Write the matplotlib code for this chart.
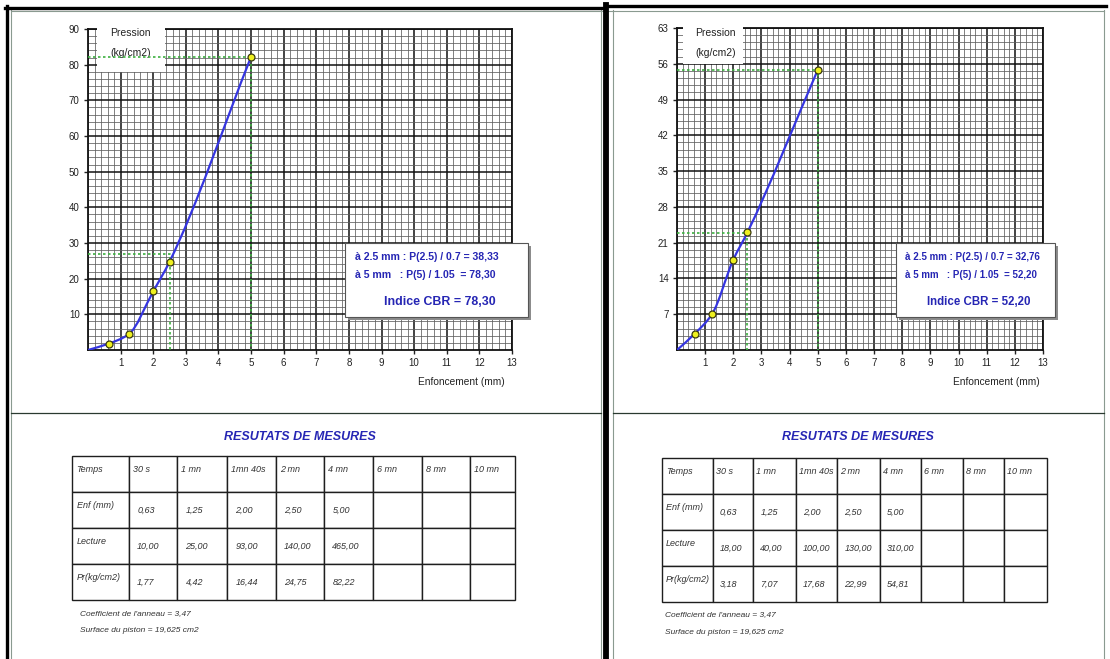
import numpy as np
import matplotlib
matplotlib.use("Agg")
import matplotlib.pyplot as plt
from matplotlib.patches import Rectangle, PathPatch
from matplotlib.path import Path
from matplotlib.ticker import MultipleLocator

plt.rcParams['font.family'] = ['Liberation Sans', 'DejaVu Sans']

W, H = 1110, 659

# Essai CBR : temps de lecture et enfoncement communs aux deux essais
temps = ["30 s", "1 mn", "1mn 40s", "2 mn", "4 mn", "6 mn", "8 mn", "10 mn"]
enf_mm = [0.63, 1.25, 2.00, 2.50, 5.00]

# Essai 1
lecture_1 = [10.00, 25.00, 93.00, 140.00, 465.00]
pression_1 = [1.77, 4.42, 16.44, 24.75, 82.22]
indice_25_1 = 38.33   # P(2.5) / 0.7
indice_5_1 = 78.30    # P(5) / 1.05
cbr_1 = 78.30

# Essai 2
lecture_2 = [18.00, 40.00, 100.00, 130.00, 310.00]
pression_2 = [3.18, 7.07, 17.68, 22.99, 54.81]
indice_25_2 = 32.76
indice_5_2 = 52.20
cbr_2 = 52.20

coef_anneau = "3,47"
surface_piston = "19,625"

BLUE_TXT = "#2626b4"
GREEN = "#3cb040"


def fmt(v):
    return f"{v:.2f}".replace(".", ",")


def fig_rect(l, t, r, b):
    return [l / W, 1 - b / H, (r - l) / W, (b - t) / H]


def smooth_path(xs, ys):
    # courbe lissée (tangentes monotones) passant par les points mesurés
    x = np.asarray(xs, float)
    y = np.asarray(ys, float)
    h = np.diff(x)
    d = np.diff(y) / h
    m = np.zeros_like(x)
    m[0], m[-1] = d[0], d[-1]
    for k in range(1, len(x) - 1):
        if d[k - 1] * d[k] > 0:
            w1 = 2 * h[k] + h[k - 1]
            w2 = h[k] + 2 * h[k - 1]
            m[k] = (w1 + w2) / (w1 / d[k - 1] + w2 / d[k])
    verts = [(x[0], y[0])]
    codes = [Path.MOVETO]
    for k in range(len(x) - 1):
        verts += [(x[k] + h[k] / 3, y[k] + m[k] * h[k] / 3),
                  (x[k + 1] - h[k] / 3, y[k + 1] - m[k + 1] * h[k] / 3),
                  (x[k + 1], y[k + 1])]
        codes += [Path.CURVE4] * 3
    return Path(verts, codes)


fig = plt.figure(figsize=(W / 100, H / 100), dpi=100)

# fond : cadres et séparations (coordonnées en pixels)
bg = fig.add_axes([0, 0, 1, 1])
bg.set_xlim(0, W)
bg.set_ylim(H, 0)
bg.axis("off")

top = fig.add_axes([0, 0, 1, 1], zorder=5)
top.set_xlim(0, W)
top.set_ylim(H, 0)
top.axis("off")
top.patch.set_alpha(0)

for x in (11, 601, 613, 1104):
    bg.plot([x, x], [10, H], color="#8a9a90", lw=0.8)
bg.plot([11, 1104], [11, 11], color="#8a9a90", lw=0.8)
bg.plot([5, 604], [7.5, 7.5], color="black", lw=2.4)
bg.plot([607, 1106], [6, 6], color="black", lw=2.4)
bg.plot([7, 7], [6, H], color="black", lw=2.4)
bg.plot([606, 606], [5, H], color="black", lw=4.2)
bg.plot([11, 601], [413, 413], color="#2a3a30", lw=0.9)
bg.plot([613, 1104], [413, 413], color="#2a3a30", lw=0.9)


def draw_chart(rect, ymax, ystep, pression, i25, i5, cbr, pres_box, pres_txt_x,
               xlabel_x, box, txt_x, fs_line):
    l, t, r, b = rect
    ax = fig.add_axes(fig_rect(l, t, r, b), zorder=2)
    ax.set_xlim(0, 13)
    ax.set_ylim(0, ymax)
    ax.set_xticks(np.arange(1, 14))
    ax.set_yticks(np.arange(ystep, ymax + 1, ystep))
    ax.xaxis.set_minor_locator(MultipleLocator(0.2))
    ax.yaxis.set_minor_locator(MultipleLocator(ystep / 5))
    ax.set_axisbelow(True)
    ax.grid(which="major", color="#111111", lw=1.1)
    ax.grid(which="minor", color="#5e5e5e", lw=0.55)
    ax.tick_params(which="major", direction="out", length=3, width=1,
                   labelsize=7, pad=3, colors="#222222")
    ax.tick_params(which="minor", length=0)
    for s in ax.spines.values():
        s.set_linewidth(1.3)
        s.set_color("#111111")

    # cartouche "Pression"
    pl, pt, pr, pb = pres_box
    ax.add_patch(Rectangle((pl / W, 1 - pb / H), (pr - pl) / W, (pb - pt) / H,
                           transform=fig.transFigure, facecolor="white",
                           edgecolor="none", zorder=2.6, clip_on=False))
    ax.text(pres_txt_x / W, 1 - 33 / H, "Pression", transform=fig.transFigure,
            fontsize=7.5, va="center", ha="left", color="#222222", zorder=2.65)
    ax.text(pres_txt_x / W, 1 - 53 / H, "(kg/cm2)", transform=fig.transFigure,
            fontsize=7.5, va="center", ha="left", color="#222222", zorder=2.65)

    # lectures à 2.5 mm et 5 mm
    p25 = i25 * 0.7
    p5 = i5 * 1.05
    ls = (0, (1.5, 1.5))
    ax.plot([0, 2.5, 2.5], [p25, p25, 0], color=GREEN, lw=1.2, ls=ls,
            zorder=2.7, clip_on=False)
    ax.plot([0, 5, 5], [p5, p5, 0], color=GREEN, lw=1.2, ls=ls,
            zorder=2.7, clip_on=False)

    xs = [0.0] + enf_mm
    ys = [0.0] + pression
    ax.add_patch(PathPatch(smooth_path(xs, ys), facecolor="none",
                           edgecolor="#3535e0", lw=1.6, zorder=3))
    ax.plot(enf_mm, pression, "o", ms=5, mfc="#eef020", mec="#3a3a10",
            mew=0.9, zorder=4, clip_on=False)

    top.text(xlabel_x, 382, "Enfoncement (mm)", fontsize=7.3, ha="center",
             va="center", color="#222222")

    # encadré des indices
    bl, bt, br, bb = box
    top.add_patch(Rectangle((bl + 3, bt + 3), br - bl, bb - bt,
                            facecolor="#8c8c8c", edgecolor="none"))
    top.add_patch(Rectangle((bl, bt), br - bl, bb - bt, facecolor="white",
                            edgecolor="#555555", lw=0.8))
    kw = dict(family=["Liberation Sans Narrow", "Liberation Sans"],
              weight="bold", color=BLUE_TXT, va="center")
    top.text(txt_x, 257, f"à 2.5 mm : P(2.5) / 0.7 = {fmt(i25)}",
             fontsize=fs_line, ha="left", **kw)
    top.text(txt_x, 275, f"à 5 mm   : P(5) / 1.05  = {fmt(i5)}",
             fontsize=fs_line, ha="left", **kw)
    top.text((bl + br) / 2 + 3, 302, f"Indice CBR = {fmt(cbr)}",
             fontsize=fs_line + 1.3, ha="center", **kw)
    return ax


def draw_table(cols, t, b, lecture, pression, title_x, note_x, note_y):
    rows = [["Temps"] + temps,
            ["Enf (mm)"] + [fmt(v) for v in enf_mm] + [""] * 3,
            ["Lecture"] + [fmt(v) for v in lecture] + [""] * 3,
            ["Pr(kg/cm2)"] + [fmt(v) for v in pression] + [""] * 3]
    widths = np.diff(cols)
    tb = bg.table(cellText=rows, colWidths=list(widths / widths.sum()),
                  cellLoc="left",
                  bbox=[cols[0] / W, 1 - b / H, (cols[-1] - cols[0]) / W,
                        (b - t) / H])
    tb.auto_set_font_size(False)
    tb.set_fontsize(6.5)
    for (ri, ci), cell in tb.get_celld().items():
        cell.set_edgecolor("#1e1e1e")
        cell.set_linewidth(1.0)
        txt = cell.get_text()
        txt.set_style("italic")
        txt.set_color("#333333")
        if ri > 0 and ci > 0:
            cell.PAD = 0.17
        else:
            cell.PAD = 0.08
        if ri == 0 or ci == 0:
            txt.set_va("bottom")

    top.text(title_x, 437, "RESUTATS DE MESURES", fontsize=9,
             weight="bold", style="italic", color=BLUE_TXT, ha="center",
             va="center")
    top.text(note_x, note_y[0], f"Coefficient de l'anneau = {coef_anneau}",
             fontsize=6, style="italic", color="#333333", va="center")
    top.text(note_x, note_y[1], f"Surface du piston = {surface_piston} cm2",
             fontsize=6, style="italic", color="#333333", va="center")


draw_chart((88, 29, 512, 350), 90, 10, pression_1, indice_25_1, indice_5_1,
           cbr_1, (97, 26, 165, 72), 110, 461, (345, 243, 528, 317), 355, 7.6)
draw_chart((677, 28, 1043, 350), 63, 7, pression_2, indice_25_2, indice_5_2,
           cbr_2, (683, 25, 743, 64), 695, 996, (896, 243, 1055, 317), 905, 7.0)

draw_table([72, 129, 177, 227, 276, 324, 373, 422, 470, 515], 456, 600,
           lecture_1, pression_1, 300, 80, (614, 630))
draw_table([662, 713, 753, 796, 837, 880, 921, 963, 1004, 1047], 458, 602,
           lecture_2, pression_2, 858, 665, (615, 633))

fig.savefig("out.png", dpi=100)
